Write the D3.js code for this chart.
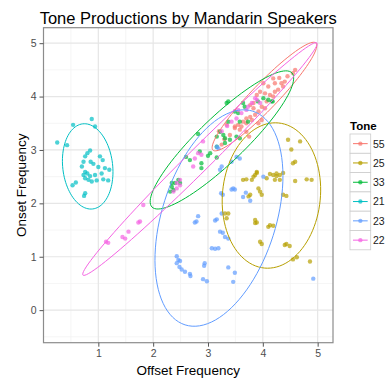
<!DOCTYPE html>
<html>
<head>
<meta charset="utf-8">
<script src="https://cdn.jsdelivr.net/npm/d3@7"></script>
<style>
  body { margin: 0; background: #fff; }
  svg { display: block; font-family: "Liberation Sans", Arial, sans-serif; }
</style>
</head>
<body>
<svg id="chart" width="390" height="378"></svg>
<script>
// tone levels, in legend order, and their colours
var tones = ["55", "25", "33", "21", "23", "22"];
var toneColors = ["#F8766D", "#B79F00", "#00BA38", "#00BFC4", "#619CFF", "#F564E3"];

var xTicks = [1, 2, 3, 4, 5];
var yTicks = [0, 1, 2, 3, 4, 5];

// [offset, onset]
var tone55 = [[4.19,4.34],[4.22,4.25],[4.34,4.25],[4.40,4.28],[4.37,4.19],[4.28,4.13],[4.22,4.09],[4.10,4.19],
  [4.04,4.06],[4.13,4.03],[4.19,4.00],[4.59,4.50],[4.55,4.44],[4.01,4.25],[3.95,4.09],[3.89,4.03],[4.07,3.91],
  [4.04,3.78],[3.98,3.81],[3.83,3.78],[3.92,3.72],[3.86,3.66],[3.70,3.59],[3.80,3.56],[3.64,3.53],[3.55,3.47],
  [3.61,3.44],[3.49,3.44],[3.98,3.56],[3.92,3.50],[3.70,3.50],[3.58,3.38],[3.49,3.41],[3.40,3.28],[3.70,3.34],
  [3.34,3.47],[3.77,3.62],[3.83,3.88],[3.77,3.84],[3.20,3.35],[3.25,3.10],[4.30,4.35],[3.75,3.25],[4.45,4.38],[3.30,3.20]];
var tone25 = [[3.64,2.44],[3.70,2.45],[3.80,2.44],[3.86,2.53],[3.89,2.57],[3.83,2.50],[4.13,2.55],[4.19,2.53],
  [4.25,2.51],[4.31,2.53],[4.37,2.57],[4.22,2.44],[4.31,2.44],[4.59,2.42],[4.80,2.45],[4.89,2.44],[3.92,2.28],
  [3.95,2.22],[3.98,2.16],[3.77,2.16],[3.74,2.13],[4.37,2.16],[4.43,2.14],[3.31,1.81],[3.37,1.81],[3.34,1.72],
  [3.86,1.69],[3.89,1.64],[3.86,1.63],[4.13,1.59],[4.19,1.58],[4.10,1.56],[3.95,1.28],[3.98,1.24],[4.43,1.24],
  [4.49,1.20],[4.40,1.22],[4.62,0.99],[4.55,0.95],[4.86,0.91],[4.46,3.19],[4.68,3.16],[4.52,3.01],[4.59,2.78],
  [4.55,2.75],[3.89,2.59],[4.25,2.56],[4.07,2.47]];
var tone33 = [[2.82,3.30],[2.60,2.87],[2.67,2.81],[2.85,2.97],[2.88,2.75],[3.00,2.89],[3.16,2.86],[2.88,2.66],
  [3.16,3.25],[3.28,3.28],[3.31,3.22],[2.46,2.44],[2.40,2.38],[2.34,2.31],[2.37,2.25],[2.31,2.22],[2.49,2.38],
  [2.34,2.38],[3.34,3.88],[3.37,3.91],[4.01,3.97],[4.16,3.91],[4.10,3.94],[3.67,3.81],[3.64,3.88],[3.55,3.69],
  [3.49,3.72],[3.58,3.53],[3.37,3.53],[3.73,3.53],[3.40,3.19],[3.52,3.25],[3.58,3.22],[3.31,3.13],[3.16,3.06],
  [3.04,2.94],[3.22,3.34],[3.91,3.91],[4.18,3.91]];
var tone21 = [[0.88,3.58],[0.54,3.47],[0.94,3.44],[0.25,3.14],[0.43,3.09],[0.85,2.99],[0.80,2.94],[0.76,2.88],
  [1.03,2.88],[1.08,2.81],[0.73,2.78],[0.86,2.78],[0.91,2.74],[0.70,2.69],[1.00,2.68],[1.12,2.66],[1.20,2.63],
  [0.76,2.59],[0.80,2.56],[0.73,2.53],[0.85,2.51],[0.94,2.53],[1.06,2.56],[0.76,2.47],[0.82,2.44],[1.09,2.45],
  [0.97,2.43],[0.88,2.41],[1.18,2.43],[0.59,2.39],[0.53,2.34],[0.76,2.19],[0.74,2.14]];
var tone23 = [[4.01,2.50],[3.69,2.20],[3.64,2.12],[3.77,2.05],[3.43,2.26],[3.49,2.26],[3.24,2.19],[3.27,2.16],
  [3.25,1.81],[3.16,1.70],[3.13,1.68],[2.82,1.76],[2.76,1.64],[2.79,1.66],[3.22,1.47],[3.27,1.45],[3.31,1.37],
  [3.37,1.34],[3.07,1.16],[3.13,1.15],[3.19,1.16],[2.43,1.01],[2.46,0.94],[2.49,0.92],[2.43,0.88],[2.48,0.81],
  [2.52,0.76],[2.58,0.72],[2.67,0.68],[2.68,0.64],[2.94,0.88],[2.93,0.83],[3.37,0.80],[3.49,0.70],[2.91,0.58],
  [2.98,0.54],[3.46,0.53],[4.92,0.59],[3.22,2.63],[3.43,2.78],[3.58,2.84],[3.52,2.87],[3.19,3.03],[3.16,3.06],
  [3.25,2.69],[3.46,2.28]];
var tone22 = [[1.82,1.97],[1.76,1.66],[1.73,1.64],[1.55,1.47],[1.49,1.34],[1.44,1.37],[1.18,1.26],[1.14,1.28],
  [2.43,2.38],[2.49,2.34],[2.91,3.16],[2.73,2.69],[2.76,2.84],[2.82,2.94],[2.88,2.91],[2.49,2.44],[2.43,2.28],
  [2.37,2.22],[3.89,3.94],[3.95,3.88],[3.80,3.88],[3.70,3.75],[3.61,3.69],[3.52,3.59],[3.43,3.53],[3.73,3.81],
  [3.86,3.97],[3.55,3.75],[3.35,3.45],[3.25,3.35]];

// 95% ellipses: centre x, centre y, half axis 1 (dx, dy), half axis 2 (dx, dy)
var ellipses = [
  [4.03, 4.00, 0.939, 1.003, 0.171, -0.169],
  [4.157, 2.147, 0.128, 1.359, 0.889, -0.088],
  [3.254, 3.188, 1.276, 1.256, 0.290, -0.311],
  [0.806, 2.692, -0.091, 0.797, 0.452, 0.055],
  [3.200, 1.725, 0.618, 2.001, 0.990, -0.324],
  [2.853, 2.831, 2.133, 2.175, 0.148, -0.153]
];

var points = [tone55, tone25, tone33, tone21, tone23, tone22];

var svg = d3.select("#chart");
var pLeft = 43.5, pRight = 333, pTop = 27.7, pBottom = 342.7;

var x = d3.scaleLinear().domain([0, 5.28]).range([pLeft, pRight]);
var y = d3.scaleLinear().domain([-0.61, 5.29]).range([pBottom, pTop]);
var color = d3.scaleOrdinal().domain(tones).range(toneColors);

var panel = svg.append("g");

// minor grid
var xMinor = d3.range(0.5, 5.3, 1);
var yMinor = d3.range(-0.5, 5.3, 1);
panel.selectAll(".xminor").data(xMinor).enter().append("line")
  .attr("x1", d => x(d)).attr("x2", d => x(d)).attr("y1", pTop).attr("y2", pBottom)
  .attr("stroke", "#f3f3f3").attr("stroke-width", 0.8);
panel.selectAll(".yminor").data(yMinor).enter().append("line")
  .attr("y1", d => y(d)).attr("y2", d => y(d)).attr("x1", pLeft).attr("x2", pRight)
  .attr("stroke", "#f3f3f3").attr("stroke-width", 0.8);

// major grid
panel.selectAll(".xmajor").data(xTicks).enter().append("line")
  .attr("x1", d => x(d)).attr("x2", d => x(d)).attr("y1", pTop).attr("y2", pBottom)
  .attr("stroke", "#e6e6e6").attr("stroke-width", 1.2);
panel.selectAll(".ymajor").data(yTicks).enter().append("line")
  .attr("y1", d => y(d)).attr("y2", d => y(d)).attr("x1", pLeft).attr("x2", pRight)
  .attr("stroke", "#e6e6e6").attr("stroke-width", 1.2);

// points
points.forEach((pts, i) => {
  panel.append("g").selectAll("circle").data(pts).enter().append("circle")
    .attr("cx", d => x(d[0])).attr("cy", d => y(d[1])).attr("r", 2.2)
    .attr("fill", color(tones[i])).attr("fill-opacity", 0.7);
});

// ellipses
var angles = d3.range(0, 101).map(k => k / 100 * 2 * Math.PI);
var line = d3.line().x(d => x(d[0])).y(d => y(d[1]));
ellipses.forEach((e, i) => {
  var path = angles.map(t => [
    e[0] + e[2] * Math.cos(t) + e[4] * Math.sin(t),
    e[1] + e[3] * Math.cos(t) + e[5] * Math.sin(t)
  ]);
  panel.append("path").attr("d", line(path))
    .attr("fill", "none").attr("stroke", color(tones[i])).attr("stroke-width", 1);
});

// border
svg.append("rect").attr("x", pLeft).attr("y", pTop)
  .attr("width", pRight - pLeft).attr("height", pBottom - pTop)
  .attr("fill", "none").attr("stroke", "#8c8c8c").attr("stroke-width", 1.2);

// axes
var xAxis = svg.append("g").attr("transform", "translate(0," + pBottom + ")")
  .call(d3.axisBottom(x).tickValues(xTicks).tickFormat(d3.format("d")).tickSize(4).tickPadding(3));
var yAxis = svg.append("g").attr("transform", "translate(" + pLeft + ",0)")
  .call(d3.axisLeft(y).tickValues(yTicks).tickFormat(d3.format("d")).tickSize(4).tickPadding(3));
[xAxis, yAxis].forEach(a => {
  a.select(".domain").remove();
  a.selectAll(".tick line").attr("stroke", "#555");
  a.selectAll(".tick text").attr("fill", "#4d4d4d").style("font-size", "10.5px")
    .style("font-family", "Liberation Sans, Arial, sans-serif");
});

// titles
svg.append("text").attr("x", (pLeft + pRight) / 2).attr("y", 23.5)
  .attr("text-anchor", "middle").style("font-size", "16.5px").text("Tone Productions by Mandarin Speakers");
svg.append("text").attr("x", (pLeft + pRight) / 2).attr("y", 375)
  .attr("text-anchor", "middle").style("font-size", "13.5px").text("Offset Frequency");
svg.append("text").attr("transform", "translate(26," + (pTop + pBottom) / 2 + ") rotate(-90)")
  .attr("text-anchor", "middle").style("font-size", "13.5px").text("Onset Frequency");

// legend
var legend = svg.append("g").attr("transform", "translate(350,134)");
legend.append("text").attr("x", 0).attr("y", -4).style("font-size", "11.5px")
  .style("font-weight", "bold").text("Tone");
var keys = legend.selectAll(".key").data(tones).enter().append("g")
  .attr("transform", (d, i) => "translate(0," + i * 19.3 + ")");
keys.append("rect").attr("width", 20.7).attr("height", 19.3)
  .attr("fill", "#fff").attr("stroke", "#cccccc").attr("stroke-width", 0.8);
keys.append("line").attr("x1", 3).attr("x2", 17.7).attr("y1", 9.65).attr("y2", 9.65)
  .attr("stroke", d => color(d)).attr("stroke-width", 1);
keys.append("circle").attr("cx", 10.35).attr("cy", 9.65).attr("r", 2.2)
  .attr("fill", d => color(d)).attr("fill-opacity", 0.7);
keys.append("text").attr("x", 23).attr("y", 13.5).style("font-size", "10.5px")
  .attr("fill", "#1a1a1a").text(d => d);
</script>
</body>
</html>
